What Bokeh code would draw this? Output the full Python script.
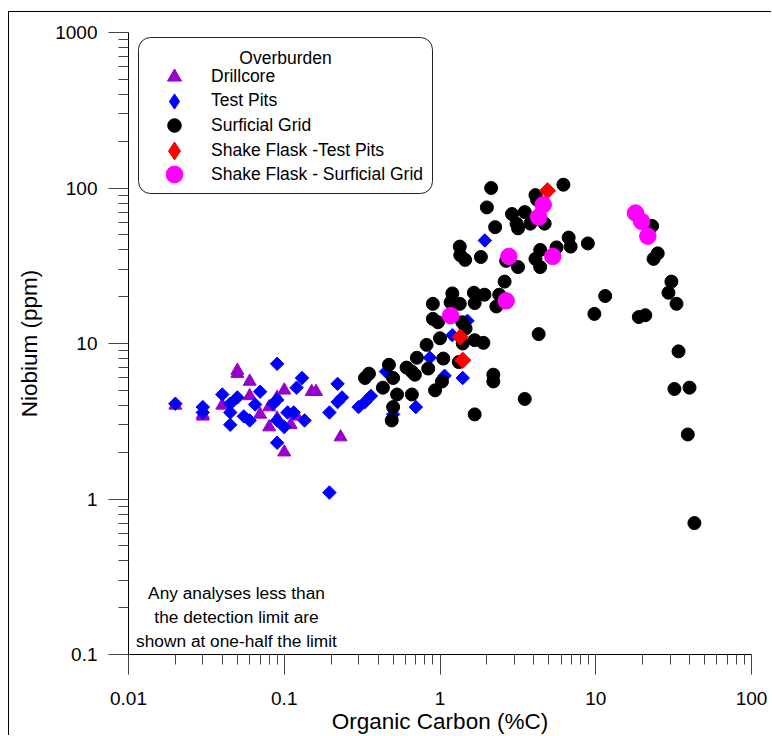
import math
from bokeh.plotting import figure
from bokeh.models import (Range1d, FixedTicker, CustomJSTickFormatter, BoxAnnotation,
                          Label, Legend, LegendItem)
from bokeh.embed import file_html
from bokeh.resources import INLINE

FONT = "Liberation Sans"

# ---------------- data (Organic Carbon %C, Niobium ppm) ----------------
drill_c = [0.02, 0.03, 0.03, 0.04, 0.05, 0.05, 0.06, 0.06, 0.07, 0.08,
           0.08, 0.09, 0.09, 0.1, 0.1, 0.11, 0.12, 0.15, 0.16, 0.23]
drill_nb = [4.0, 3.4, 3.5, 4.0, 6.7, 6.4, 5.7, 4.6, 3.5, 3.9,
            2.9, 4.5, 3.3, 5.0, 2.0, 3.0, 3.4, 4.9, 4.9, 2.5]

pits_c = [0.02, 0.03, 0.03, 0.04, 0.045, 0.045, 0.045, 0.05, 0.055, 0.06,
          0.065, 0.07, 0.085, 0.09, 0.09, 0.09, 0.09, 0.1, 0.105, 0.115,
          0.12, 0.13, 0.135, 0.195, 0.195, 0.22, 0.22, 0.235, 0.3, 0.33,
          0.36, 0.45, 0.5, 0.7, 0.86, 1.07, 1.2, 1.4, 1.5, 1.94]
pits_nb = [4.1, 3.9, 3.6, 4.7, 4.1, 3.6, 3.0, 4.5, 3.4, 3.2,
           4.05, 4.9, 4.1, 4.35, 7.4, 3.2, 2.3, 2.9, 3.6, 3.6,
           5.2, 6.0, 3.2, 3.6, 1.1, 5.5, 4.2, 4.5, 3.9, 4.2,
           4.6, 6.6, 3.5, 3.9, 8.1, 6.2, 11.3, 6.0, 14.0, 46.0]

grid_c = [0.33, 0.35, 0.43, 0.47, 0.5, 0.53, 0.5, 0.49, 0.61, 0.66,
          0.69, 0.66, 0.71, 0.84, 0.82, 0.93, 1.03, 1.05, 1.0, 0.9,
          0.9, 0.97, 1.17, 1.2, 1.34, 1.65, 1.67, 1.93, 1.39, 1.46,
          1.4, 1.67, 1.9, 1.32, 1.34, 1.35, 1.45, 1.83, 2.13, 2.0,
          2.26, 2.66, 3.17, 2.6, 2.4, 2.3, 2.9, 3.5, 3.1, 3.17,
          3.8, 4.7, 4.1, 4.2, 6.2, 6.7, 6.9, 8.9, 5.6, 4.4,
          4.1, 4.4, 2.2, 2.2, 3.5, 1.67, 4.3, 11.5, 9.8, 18.9,
          20.8, 23.0, 25.0, 23.5, 30.6, 29.3, 33.0, 34.0, 32.0, 40.0,
          39.0, 43.0]
grid_nb = [6.0, 6.4, 5.2, 7.3, 6.0, 4.7, 3.9, 3.2, 7.0, 6.6,
           6.3, 4.7, 8.1, 6.9, 9.8, 5.0, 5.7, 8.0, 10.8, 18.0,
           14.4, 13.7, 18.4, 21.0, 18.0, 21.2, 18.2, 20.6, 13.7, 12.5,
           10.0, 10.5, 10.1, 7.6, 42.0, 37.0, 34.5, 36.0, 100.0, 75.0,
           56.0, 34.0, 31.0, 25.0, 20.6, 17.3, 68.0, 70.0, 59.0, 55.0,
           59.0, 59.0, 90.0, 84.0, 105.0, 48.0, 42.0, 44.0, 41.5, 40.0,
           35.0, 31.0, 6.3, 5.7, 4.4, 3.5, 11.5, 20.2, 15.5, 14.8,
           15.2, 57.0, 38.0, 35.0, 25.0, 21.2, 18.0, 8.9, 5.1, 5.2,
           2.6, 0.7]

flask_pits_c = [1.35, 1.4, 4.9]
flask_pits_nb = [11.0, 7.8, 96.0]

flask_grid_c = [1.17, 2.66, 2.77, 4.3, 4.6, 5.3, 18.0, 19.7, 21.6]
flask_grid_nb = [15.1, 18.8, 36.3, 65.0, 78.0, 36.3, 69.0, 61.0, 49.0]

x_major = [0.01, 0.1, 1, 10, 100]
y_major = [0.1, 1, 10, 100, 1000]
x_minor = [m * 10.0 ** k for k in range(-2, 2) for m in range(2, 10)]
y_minor = [m * 10.0 ** k for k in range(-1, 3) for m in range(2, 10)]

series_labels = ["Drillcore", "Test Pits", "Surficial Grid",
                 "Shake Flask -Test Pits", "Shake Flask - Surficial Grid"]

PURPLE = "#9900CC"
BLUE = "#0000FF"
RED = "#FF0000"
MAGENTA = "#FF00FF"

# ---------------- figure ----------------
p = figure(width=763, height=724, x_axis_type="log", y_axis_type="log",
           x_range=Range1d(0.01, 100), y_range=Range1d(0.1, 1000),
           output_backend="svg", toolbar_location=None,
           min_border_left=119, min_border_right=21,
           min_border_top=20, min_border_bottom=82)
# outer page frame (left and top edges visible in the window)
p.styles = {"margin-left": "8px", "margin-top": "11px",
            "border-left": "1px solid black", "border-top": "1px solid black"}
p.grid.visible = False
p.outline_line_color = None
p.background_fill_color = "white"
p.border_fill_color = "white"

fmt = CustomJSTickFormatter(code="return String(Number(tick.toPrecision(6)));")
p.xaxis.ticker = FixedTicker(ticks=x_major, minor_ticks=x_minor)
p.yaxis.ticker = FixedTicker(ticks=y_major, minor_ticks=y_minor)
for ax in (p.xaxis[0], p.yaxis[0]):
    ax.formatter = fmt
    ax.axis_line_color = "black"
    ax.axis_line_width = 1
    ax.major_tick_out = 20
    ax.major_tick_in = 0
    ax.minor_tick_out = 10
    ax.minor_tick_in = 0
    ax.major_tick_line_color = "#444444"
    ax.minor_tick_line_color = "#444444"
    ax.major_label_text_font = FONT
    ax.major_label_text_font_size = "19px"
    ax.major_label_text_color = "black"
    ax.axis_label_text_font = FONT
    ax.axis_label_text_font_size = "22.5px"
    ax.axis_label_text_font_style = "normal"
    ax.axis_label_text_color = "black"

p.xaxis.axis_label = "Organic Carbon (%C)"
p.yaxis.axis_label = "Niobium (ppm)"
p.xaxis.major_label_standoff = 17
p.xaxis.axis_label_standoff = 1
p.yaxis.major_label_standoff = 11
p.yaxis.axis_label_standoff = 10

# ---------------- data glyphs ----------------
p.scatter(drill_c, drill_nb, marker="triangle", size=13,
          fill_color=PURPLE, line_color=PURPLE)
p.scatter(pits_c, pits_nb, marker="square", angle=math.pi / 4, size=9.5,
          fill_color=BLUE, line_color=BLUE)
p.scatter(grid_c, grid_nb, marker="circle", size=13,
          fill_color="black", line_color="black")
p.scatter(flask_pits_c, flask_pits_nb, marker="square", angle=math.pi / 4, size=11.5,
          fill_color=RED, line_color=RED)
p.scatter(flask_grid_c, flask_grid_nb, marker="circle", size=16.5,
          fill_color=MAGENTA, line_color=MAGENTA)

# ---------------- legend (one Legend per row so each symbol keeps its own size) ----------------
nan = float("nan")
legend_markers = ["triangle", "diamond", "circle", "diamond", "circle"]
legend_colors = [PURPLE, BLUE, "black", RED, MAGENTA]
legend_glyph_h = [35, 38, 34, 45, 42]          # symbol size = 0.4 * glyph box
legend_row_y = [560.5, 534.3, 512.0, 481.5, 458.7]  # screen offsets from frame bottom

for lab, mk, col, gh, vy in zip(series_labels, legend_markers, legend_colors,
                                legend_glyph_h, legend_row_y):
    r = p.scatter([nan], [nan], marker=mk, size=gh * 0.4, fill_color=col, line_color=col)
    leg = Legend(items=[LegendItem(label=lab, renderers=[r])], location=(21, vy),
                 margin=0, padding=0, spacing=0, glyph_width=50, glyph_height=gh,
                 label_height=gh, label_standoff=12, label_text_font=FONT,
                 label_text_font_size="17.5px", label_text_color="black",
                 background_fill_alpha=0, border_line_alpha=0)
    p.add_layout(leg)

legend_box = BoxAnnotation(left=10, right=304, top=617, bottom=461,
                           left_units="screen", right_units="screen",
                           top_units="screen", bottom_units="screen",
                           fill_alpha=0, line_color="#222222", line_alpha=1,
                           line_width=1, border_radius=12)
p.add_layout(legend_box)

p.add_layout(Label(x=157, y=597, x_units="screen", y_units="screen",
                   text="Overburden", text_align="center", text_baseline="middle",
                   text_font=FONT, text_font_size="17.5px", text_font_style="normal",
                   text_color="black"))

p.add_layout(Label(x=108, y=38, x_units="screen", y_units="screen",
                   text="Any analyses less than\nthe detection limit are\nshown at one-half the limit",
                   text_align="center", text_baseline="middle",
                   text_font=FONT, text_font_size="17.3px", text_font_style="normal",
                   text_color="black"))

open("out.html", "w").write(file_html(p, INLINE))
